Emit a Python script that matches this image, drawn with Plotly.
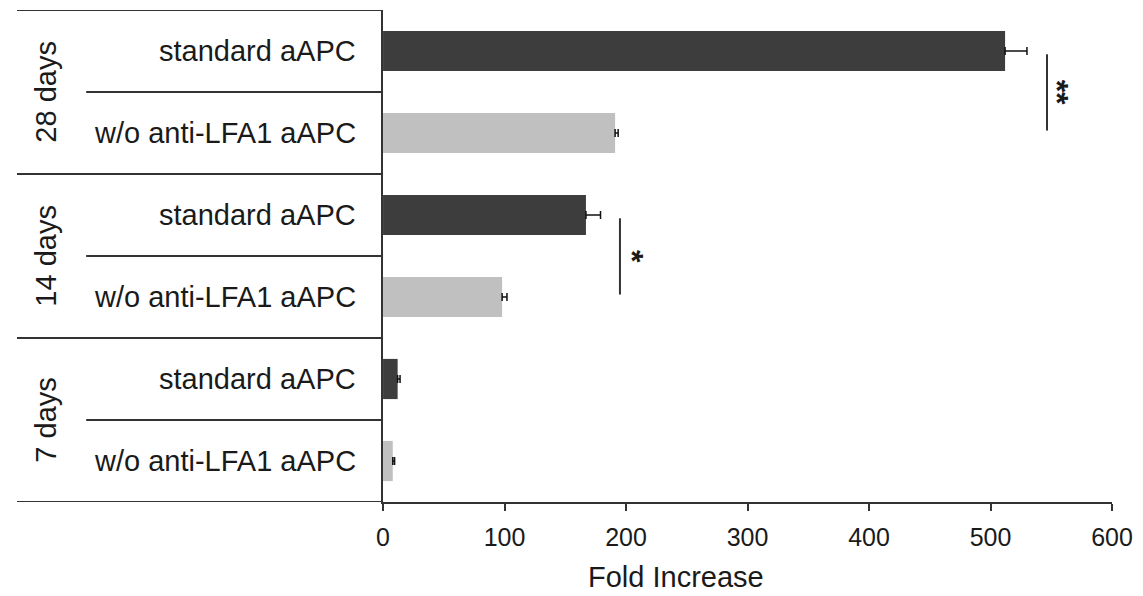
import plotly.graph_objects as go

# ---- data (bottom to top) ----
row_labels = ["w/o anti-LFA1 aAPC", "standard aAPC",
              "w/o anti-LFA1 aAPC", "standard aAPC",
              "w/o anti-LFA1 aAPC", "standard aAPC"]
group_labels = ["7 days", "14 days", "28 days"]
std_vals = [12, 167, 512]
std_err = [2, 12, 18]
wo_vals = [8, 98, 191]
wo_err = [1.5, 4, 2.5]
x_ticks = [0, 100, 200, 300, 400, 500, 600]
sig_marks = ["*", "**"]          # 14 days, 28 days
sig_x = [195, 546.5]
sig_text_x = [205, 555]

DARK = "#3d3d3d"
LIGHT = "#c0c0c0"
LINE = "#333333"
TXT = "#1a1a1a"
FONT = "Liberation Sans, Arial, sans-serif"

W, H = 1143, 596
PL, PR, PT, PB = 380.5, 1118.3, 10, 502      # plot box in page pixels
TL = 10                                        # table left in page pixels
ML, MT = TL, PT
MR, MB = W - PR, H - PB
PW = W - ML - MR
PH = H - MT - MB
x_dom0 = (PL - TL) / PW


def px_x(p):
    return (p - TL) / PW


def px_y(p):
    return (PB - p) / PH


std_y = [1, 3, 5]
wo_y = [0, 2, 4]

fig = go.Figure()
fig.add_trace(go.Bar(
    x=std_vals, y=std_y, orientation="h", width=0.49,
    marker=dict(color=DARK, line=dict(width=0)),
    error_x=dict(type="data", array=std_err, arrayminus=[0]*3, symmetric=False,
                 color="#111111", thickness=1.5, width=4),
    showlegend=False))
fig.add_trace(go.Bar(
    x=wo_vals, y=wo_y, orientation="h", width=0.49,
    marker=dict(color=LIGHT, line=dict(width=0)),
    error_x=dict(type="data", array=wo_err, arrayminus=[0]*3, symmetric=False,
                 color="#111111", thickness=1.5, width=4),
    showlegend=False))

shapes = []
inner_x0 = px_x(80)
for yb in [-0.5, 1.5, 3.5, 5.5]:
    shapes.append(dict(type="line", xref="paper", yref="y", x0=0, x1=x_dom0,
                       y0=yb, y1=yb, line=dict(color=LINE, width=2)))
for yb in [0.5, 2.5, 4.5]:
    shapes.append(dict(type="line", xref="paper", yref="y", x0=inner_x0, x1=x_dom0,
                       y0=yb, y1=yb, line=dict(color=LINE, width=2)))
for sx, base in zip(sig_x, [2, 4]):
    shapes.append(dict(type="line", xref="x", yref="y", x0=sx, x1=sx,
                       y0=base + 0.03, y1=base + 0.96, line=dict(color=LINE, width=2)))

annotations = []
label_x = px_x(355)
for i, lab in enumerate(row_labels):
    annotations.append(dict(text=lab, xref="paper", yref="y", x=label_x, y=i,
                            xanchor="right", yanchor="middle", showarrow=False,
                            font=dict(family=FONT, size=29, color=TXT)))
group_x = px_x(39)
for g, lab in enumerate(group_labels):
    annotations.append(dict(text=lab, xref="paper", yref="y", x=group_x, y=2*g + 0.5,
                            xanchor="center", yanchor="middle", showarrow=False,
                            textangle=-90,
                            font=dict(family=FONT, size=29, color=TXT)))
for tx, mark, base in zip(sig_text_x, sig_marks, [2, 4]):
    annotations.append(dict(text="<b>" + mark + "</b>", xref="x", yref="y",
                            x=tx, y=base + 0.5, xanchor="center", yanchor="middle",
                            showarrow=False, textangle=90,
                            font=dict(family=FONT, size=32, color=TXT)))
annotations.append(dict(text="Fold Increase", xref="paper", yref="paper",
                        x=px_x(677), y=px_y(577),
                        xanchor="center", yanchor="middle", showarrow=False,
                        font=dict(family=FONT, size=29, color=TXT)))

fig.update_layout(
    width=W, height=H, margin=dict(l=ML, r=MR, t=MT, b=MB, pad=0),
    paper_bgcolor="white", plot_bgcolor="white",
    shapes=shapes, annotations=annotations,
    xaxis=dict(domain=[x_dom0, 1], range=[0, 600], tickvals=x_ticks,
               showgrid=False, zeroline=False, showline=True, linecolor=LINE,
               linewidth=2, ticks="outside", ticklen=7, tickwidth=2, tickcolor=LINE,
               ticklabelstandoff=5,
               tickfont=dict(family=FONT, size=25, color=TXT)),
    yaxis=dict(range=[-0.5, 5.5], showgrid=False, zeroline=False,
               showline=True, linecolor=LINE, linewidth=2,
               showticklabels=False, ticks=""),
)

fig.write_html("out.html", config={"displayModeBar": False},
               post_script="document.body.style.margin='0px';")
